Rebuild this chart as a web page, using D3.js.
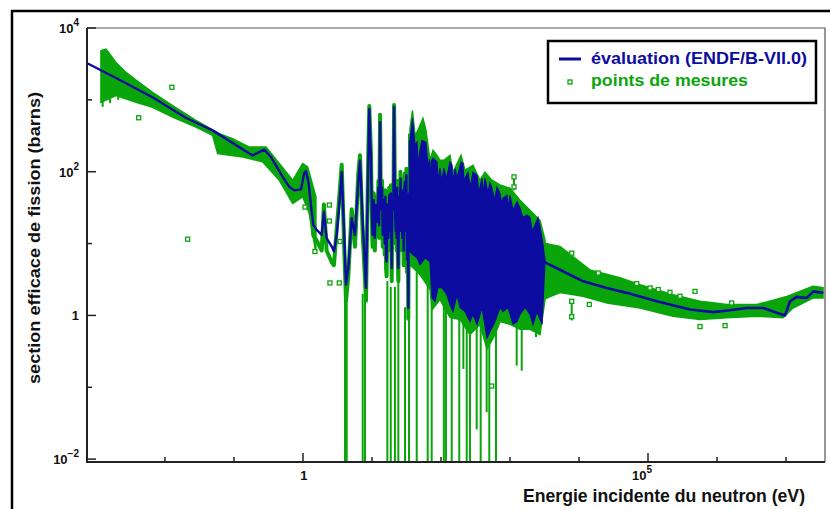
<!DOCTYPE html>
<html>
<head>
<meta charset="utf-8">
<script src="https://cdn.jsdelivr.net/npm/d3@7"></script>
<style>
  body { margin: 0; background: #fff; }
  text { font-family: "Liberation Sans", Arial, sans-serif; font-weight: bold; }
</style>
</head>
<body>
<svg id="chart" width="830" height="509"></svg>
<script>
// ---- data: [energy eV, cross section barns] ----
// evaluation (ENDF/B-VII.0): smooth thermal part + first resonances
const evalLow = [[7.6e-4,3210],[1.95e-3,2018],[6.6e-3,1087],[0.02,563],[0.049,376],[0.167,179],[0.187,169],
  [0.275,203],[0.344,160],[0.508,84.7],[0.633,61.5],[0.748,55],[0.935,56.7],[1.04,94.4],[1.105,102.6],
  [1.21,68.6],[1.31,32.5],[1.41,18.2],[1.58,15.5],[1.87,13.2],[2.01,27.7],[2.2,11.9],[2.61,9.1],[2.81,7.75],
  [3.08,13.2],[3.36,34.4],[3.64,99.4],[3.93,16.3],[4.2,2.68],[4.54,4.56],[5.08,22.5],[5.67,13.2],[6.33,72.2],
  [6.7,144],[7.33,20.2],[8.19,2.41],[8.84,137],[9.14,750],[9.68,137],[10.0,25],[10.2,13.2],[10.6,40],
  [11.0,12],[11.4,34.4],[11.9,20.2],[12.4,60],[12.7,18],[13.1,490],[13.5,30],[14.0,60],[14.3,13.2],
  [14.9,40],[15.3,10],[15.6,45],[16.0,6.5],[16.3,5.63],[16.8,35],[17.3,12],[17.8,47.3],[18.3,15],
  [18.8,50],[19.3,4.56],[19.8,40],[20.4,30],[20.9,790],[21.5,40],[22.0,15],[22.3,47.3],[22.8,12],
  [23.2,60],[23.7,9],[24.1,4.56],[24.7,45],[25.3,20],[25.9,80],[26.4,15],[26.9,47.3],[27.5,12],
  [28.2,55],[28.8,8],[29.5,60],[30.1,72.2],[30.8,15],[31.5,90],[32.2,6],[32.9,40],[33.6,1.27],
  [34.3,50],[35.0,8],[35.6,273]]
// dense resolved-resonance region, upper and lower envelope
const evalDenseHi = [[35.6,273],[38.6,551],[42,233],[44.9,256],[47,120],[49.6,199],[53,273],[60.6,256],
  [65,110],[68,150],[70,45],[72,140],[76.6,154],[87.5,136],[92,70],[96.8,112],[103,72],[110,112],[120,80],
  [135,136],[144,123],[149,72],[160,110],[171,81],[195,136],[208,131],[215,70],[223,81],[246,98],[265,60],
  [291,98],[333,89],[350,55],[367,59],[393,81],[410,50],[434,81],[480,50],[510,70],[548,59],[600,40],
  [648,61],[716,50],[760,35],[792,43],[905,47],[950,32],[1000,47],[1105,29],[1262,38],[1396,31],
  [1542,23],[1763,25],[1950,23],[2100,15],[2302,18],[2546,23],[2721,17],[3008,9.6],[3215,6]]
const evalDenseLo = [[35.6,7.67],[39.3,6.97],[44.9,6.33],[49.6,5.07],[58.6,6.33],[69.3,5.58],[74.1,1.77],
  [81.8,1.56],[90.5,2.43],[103,2.43],[122,1.94],[135,1.42],[149,1.13],[171,1.94],[188,1.29],[223,1.13],
  [263,0.82],[291,1.03],[333,0.75],[393,1.29],[464,0.49],[548,0.68],[606,0.82],[716,1.29],[792,1.13],
  [936,1.29],[1105,0.75],[1262,0.82],[1396,1.03],[1649,1.29],[1950,1.03],[2153,0.75],[2461,1.13],
  [2911,0.75],[3215,5.6]]
// unresolved / fast region
const evalHigh = [[3040,5.6],[5300,4.32],[11500,2.98],[25200,2.41],[49100,2.06],[134000,1.57],[406000,1.21],
  [884000,1.11],[1.54e6,1.18],[2.69e6,1.27],[4.69e6,1.27],[7.33e6,1.09],[9.68e6,1.0],[1.14e7,1.57],
  [1.43e7,1.81],[2.0e7,1.75],[2.49e7,2.16],[3.47e7,2.06]]

// points de mesures: spread of the measured data (upper / lower edges)
const measLowHi = [[1.18e-3,4820],[1.4e-3,5080],[1.95e-3,3320],[2.72e-3,2410],[4.2e-3,1754],[6.6e-3,1274],
  [0.0129,834],[0.0281,517],[0.0612,338],[0.0957,288],[0.167,220],[0.291,220],[0.454,130],[0.709,76],
  [0.99,130],[1.17,116],[1.54,44.8]]
const measLowLo = [[1.18e-3,926],[1.95e-3,1148],[3.8e-3,926],[6.6e-3,790],[0.0129,574],[0.0281,417],
  [0.049,320],[0.058,179],[0.134,160],[0.261,137],[0.454,76],[0.709,36.3],[0.99,44.8],[1.23,26.4],[1.54,7.36]]
const measRes = [[1.21,80],[1.31,28],[1.41,13],[1.58,11],[1.87,8],[2.01,35],[2.2,8],[2.61,5.5],[2.81,5],
  [3.08,16],[3.36,45],[3.64,125],[3.93,11],[4.2,1.6],[4.54,3.5],[5.08,30],[5.67,9],[6.33,95],[6.7,170],
  [7.33,14],[8.19,1.6],[8.84,180],[9.14,820],[9.68,170],[10.0,18],[10.2,9],[10.6,50],[11.0,8],[11.4,45],
  [11.9,14],[12.4,75],[12.7,12],[13.1,620],[13.5,20],[14.0,75],[14.3,9],[14.9,50],[15.3,7],[15.6,55],
  [16.0,4.5],[16.3,3.5],[16.8,45],[17.3,8],[17.8,60],[18.3,10],[18.8,65],[19.3,3],[19.8,50],[20.4,20],
  [20.9,850],[21.5,50],[22.0,10],[22.3,60],[22.8,8],[23.2,75],[23.7,6],[24.1,3],[24.7,55],[25.3,14],
  [25.9,100],[26.4,10],[26.9,60],[27.5,8],[28.2,70],[28.8,5],[29.5,75],[30.1,95],[30.8,10],[31.5,110],
  [32.2,4],[32.9,50],[33.6,0.9],[34.3,65],[35.0,5],[35.6,340]]
const measDenseHi = [[35.6,400],[38.6,711],[42,320],[46.4,376],[54.8,551],[60.6,376],[69.3,144],[76.6,199],
  [87.5,169],[96.8,144],[110,144],[135,169],[149,98],[195,169],[223,105],[291,123],[367,76],[434,98],
  [548,76],[716,65.5],[1000,59],[1396,40],[1950,29],[2721,21],[3215,11.2]]
const measDenseLo = [[35.6,5.07],[49.6,3.69],[69.3,2.3],[74.1,1.2],[96.8,1.66],[135,0.94],[188,0.88],
  [263,0.54],[367,0.75],[464,0.34],[606,0.54],[716,0.82],[1000,0.75],[1396,0.64],[1950,0.64],[2721,0.54],
  [3215,1.66]]
const measHighHi = [[3008,10.2],[5300,9.1],[8190,6.6],[14400,4.3],[39300,3.35],[76600,2.68],[230000,1.94],
  [568000,1.57],[1.4e6,1.42],[3.8e6,1.42],[1.03e7,1.83],[2.46e7,2.54],[3.44e7,2.43]]
const measHighLo = [[3008,1.66],[5300,2.08],[11400,1.85],[25500,1.49],[76600,1.27],[230000,0.975],
  [568000,0.88],[1.4e6,0.93],[3.8e6,0.975],[9.06e6,0.93],[1.26e7,1.27],[2.46e7,1.75],[3.44e7,1.75]]
// error bars: [energy, low, high]
const errBars = [[1.25e-3,800,3500],[1.6e-3,900,3200],[2.1e-3,1000,2800],[2.5e-3,1100,2400],
  [4.06,0.008,2.7],[4.3,0.008,2.0],[7.33,0.008,2.0],[7.92,0.008,2.4],[16.7,0.008,3],
  [18.7,0.008,2.5],[21.5,0.008,2.5],[24.1,0.008,3],[30.1,0.008,1.3],[34.4,0.008,1.3],[44.5,0.008,4],
  [64.2,0.008,3],[73.3,0.008,1.5],[110,0.008,1.5],[118,0.008,1.5],[143,0.008,1],[184,0.008,1],
  [211,0.18,1],[236,0.008,0.9],[263,0.008,0.8],[329,0.026,0.9],[376,0.008,0.9],[459,0.045,0.5],
  [501,0.008,0.5],[627,0.008,0.6],[1143,55,90],[1250,0.2,0.8],[1479,0.17,0.8],[2382,0.5,0.8],[7840,0.85,1.6]]
// isolated measured points
const measPoints = [[0.0126,1496],[4.16e-3,563],[0.0213,11.5],[1.49,7.75],[2.41,34.4],[2.41,20.6],[3.44,10.7],
  [3.36,2.83],[2.46,2.83],[1.07,32.2],[1143,84.7],[1143,61.5],[543,0.104],[7840,7.36],[7840,1.57],
  [7840,0.96],[14100,1.42],[19000,3.89],[68600,2.77],[107000,2.41],[141000,2.29],[208000,2.1],
  [291000,1.85],[480000,2.16],[568000,0.7],[1.63e6,1.49],[1.31e6,0.72]]

const xTicks = [1e-2,1e-1,1,1e1,1e2,1e3,1e4,1e5,1e6,1e7]
const xLabels = { 1: ['1',''], 1e5: ['10','5'] }
const yTicks = [1e-2,1e-1,1,1e1,1e2,1e3,1e4]
const yLabels = { 1e-2: ['10','\u22122'], 1: ['1',''], 1e2: ['10','2'], 1e4: ['10','4'] }

const blue = '#0c0ca0'
const green = '#0aa50a'

const margin = { top: 28, left: 87, right: 5, bottom: 47 }
const width = 830, height = 509

const svg = d3.select('#chart')

// outer border
svg.append('rect').attr('x', 12).attr('y', 11).attr('width', 840).attr('height', 520)
  .attr('fill', 'none').attr('stroke', '#000').attr('stroke-width', 2.5)

const x = d3.scaleLog().domain([Math.pow(10, -3.13), Math.pow(10, 7.565)])
  .range([margin.left, width - margin.right])
const y = d3.scaleLog().domain([Math.pow(10, -2.04), 1e4])
  .range([height - margin.bottom, margin.top])

svg.append('clipPath').attr('id', 'plotclip').append('rect')
  .attr('x', margin.left).attr('y', margin.top)
  .attr('width', width - margin.right - margin.left)
  .attr('height', height - margin.bottom - margin.top)

const plot = svg.append('g').attr('clip-path', 'url(#plotclip)')

const line = d3.line().x(d => x(d[0])).y(d => y(d[1]))
const band = (hi, lo) => line(hi.concat(lo.slice().reverse())) + 'Z'

// measured data
plot.append('path').attr('d', band(measLowHi, measLowLo)).attr('fill', green)
  .attr('stroke', green).attr('stroke-width', 1.5)
plot.append('path').attr('d', band(measDenseHi, measDenseLo)).attr('fill', green)
  .attr('stroke', green).attr('stroke-width', 1.5)
plot.append('path').attr('d', band(measHighHi, measHighLo)).attr('fill', green)
  .attr('stroke', green).attr('stroke-width', 1.5)
plot.append('path').attr('d', line(measRes)).attr('fill', 'none')
  .attr('stroke', green).attr('stroke-width', 4).attr('stroke-linejoin', 'round')

plot.selectAll('line.err').data(errBars).join('line').attr('class', 'err')
  .attr('x1', d => x(d[0])).attr('x2', d => x(d[0]))
  .attr('y1', d => y(d[1])).attr('y2', d => y(d[2]))
  .attr('stroke', green).attr('stroke-width', 2)

// evaluation
plot.append('path').attr('d', line(evalLow)).attr('fill', 'none')
  .attr('stroke', blue).attr('stroke-width', 2.4).attr('stroke-linejoin', 'round')
plot.append('path').attr('d', band(evalDenseHi, evalDenseLo)).attr('fill', blue)
  .attr('stroke', blue).attr('stroke-width', 1.2)
plot.append('path').attr('d', line(evalHigh)).attr('fill', 'none')
  .attr('stroke', blue).attr('stroke-width', 2.6).attr('stroke-linejoin', 'round')

plot.selectAll('rect.pt').data(measPoints).join('rect').attr('class', 'pt')
  .attr('x', d => x(d[0]) - 2).attr('y', d => y(d[1]) - 2)
  .attr('width', 4).attr('height', 4)
  .attr('fill', '#fff').attr('stroke', green).attr('stroke-width', 1.3)

// frame: top and right thin, axes thicker
const x0 = margin.left, x1 = width - margin.right, y0 = height - margin.bottom, y1 = margin.top
svg.append('path').attr('d', `M${x0},${y1}H${x1}V${y0}`).attr('fill', 'none')
  .attr('stroke', '#555').attr('stroke-width', 1.2)
svg.append('path').attr('d', `M${x0},${y1}V${y0}H${x1}`).attr('fill', 'none')
  .attr('stroke', '#222').attr('stroke-width', 2)

// x ticks
svg.selectAll('line.xt').data(xTicks).join('line').attr('class', 'xt')
  .attr('x1', d => x(d)).attr('x2', d => x(d))
  .attr('y1', y0).attr('y2', d => y0 - (xLabels[d] ? 9 : 5))
  .attr('stroke', '#222').attr('stroke-width', 1.5)
xTicks.filter(d => xLabels[d]).forEach(d => {
  const t = svg.append('text').attr('x', x(d) + (xLabels[d][1] ? 4 : 1)).attr('y', 480)
    .attr('text-anchor', xLabels[d][1] ? 'end' : 'middle')
    .attr('font-family', 'DejaVu Sans').attr('font-size', 13).attr('fill', '#111')
  t.append('tspan').text(xLabels[d][0])
  if (xLabels[d][1]) t.append('tspan').attr('dy', -7).attr('font-size', 10).text(xLabels[d][1])
})

// y ticks
svg.selectAll('line.yt').data(yTicks).join('line').attr('class', 'yt')
  .attr('y1', d => y(d)).attr('y2', d => y(d))
  .attr('x1', x0).attr('x2', d => x0 + (yLabels[d] ? 9 : 5))
  .attr('stroke', '#222').attr('stroke-width', 1.5)
yTicks.filter(d => yLabels[d]).forEach(d => {
  const t = svg.append('text').attr('x', 79).attr('y', y(d) + 5)
    .attr('text-anchor', 'end')
    .attr('font-family', 'DejaVu Sans').attr('font-size', 13).attr('fill', '#111')
  t.append('tspan').text(yLabels[d][0])
  if (yLabels[d][1]) t.append('tspan').attr('dy', -7).attr('font-size', 10).text(yLabels[d][1])
})

// axis titles
svg.append('text').attr('x', 523).attr('y', 502)
  .attr('font-size', 18).attr('textLength', 282).attr('lengthAdjust', 'spacingAndGlyphs')
  .attr('fill', '#111').text('Energie incidente du neutron (eV)')
svg.append('text').attr('transform', 'translate(40,238) rotate(-90)')
  .attr('text-anchor', 'middle')
  .attr('font-size', 17).attr('textLength', 292).attr('lengthAdjust', 'spacingAndGlyphs')
  .attr('fill', '#111').text('section efficace de fission (barns)')

// legend
const key = svg.append('g')
key.append('rect').attr('x', 548).attr('y', 41).attr('width', 268).attr('height', 62)
  .attr('fill', '#fff').attr('stroke', '#000').attr('stroke-width', 2.5)
key.append('line').attr('x1', 559).attr('x2', 581).attr('y1', 59).attr('y2', 59)
  .attr('stroke', blue).attr('stroke-width', 3)
key.append('text').attr('x', 591).attr('y', 64)
  .attr('font-size', 17).attr('textLength', 216).attr('lengthAdjust', 'spacingAndGlyphs')
  .attr('fill', blue).text('évaluation (ENDF/B-VII.0)')
key.append('rect').attr('x', 568).attr('y', 80).attr('width', 4).attr('height', 4)
  .attr('fill', '#fff').attr('stroke', green).attr('stroke-width', 1.3)
key.append('text').attr('x', 591).attr('y', 86)
  .attr('font-size', 17).attr('textLength', 157).attr('lengthAdjust', 'spacingAndGlyphs')
  .attr('fill', green).text('points de mesures')
</script>
</body>
</html>
